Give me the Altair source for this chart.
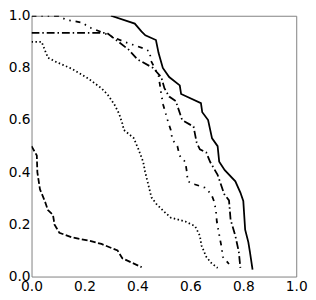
import altair as alt
import pandas as pd

# Curve data (x = recall-like, y = precision-like)
solid_x = [0.30, 0.39, 0.415, 0.43, 0.47, 0.48, 0.496, 0.52, 0.56, 0.565, 0.64, 0.645, 0.667, 0.682, 0.703, 0.709, 0.73, 0.77, 0.789, 0.80, 0.807, 0.819, 0.825, 0.835]
solid_y = [1.0, 0.97, 0.94, 0.925, 0.907, 0.857, 0.80, 0.765, 0.733, 0.70, 0.665, 0.63, 0.60, 0.53, 0.50, 0.44, 0.408, 0.365, 0.322, 0.29, 0.18, 0.132, 0.095, 0.027]

dashdot_x = [0.0, 0.285, 0.367, 0.40, 0.459, 0.49, 0.502, 0.52, 0.545, 0.569, 0.612, 0.624, 0.636, 0.66, 0.675, 0.703, 0.728, 0.746, 0.752, 0.77, 0.783, 0.789]
dashdot_y = [0.934, 0.934, 0.87, 0.833, 0.80, 0.765, 0.722, 0.69, 0.673, 0.60, 0.575, 0.513, 0.488, 0.476, 0.439, 0.39, 0.316, 0.292, 0.218, 0.156, 0.095, 0.033]

dashdotdot_x = [0.0, 0.10, 0.13, 0.19, 0.22, 0.27, 0.35, 0.42, 0.447, 0.45, 0.48, 0.49, 0.497, 0.514, 0.526, 0.532, 0.551, 0.559, 0.581, 0.587, 0.59, 0.618, 0.654, 0.679, 0.691, 0.697, 0.70, 0.712, 0.719, 0.722, 0.746]
dashdotdot_y = [1.0, 1.0, 0.985, 0.974, 0.955, 0.935, 0.90, 0.876, 0.863, 0.83, 0.77, 0.70, 0.66, 0.60, 0.562, 0.525, 0.50, 0.464, 0.439, 0.40, 0.365, 0.353, 0.341, 0.316, 0.285, 0.248, 0.211, 0.144, 0.107, 0.076, 0.048]

dotted_x = [0.0, 0.038, 0.062, 0.093, 0.154, 0.215, 0.264, 0.288, 0.313, 0.331, 0.343, 0.349, 0.386, 0.404, 0.422, 0.429, 0.441, 0.453, 0.471, 0.502, 0.526, 0.581, 0.618, 0.636, 0.642, 0.66, 0.679, 0.703]
dotted_y = [0.90, 0.90, 0.839, 0.823, 0.796, 0.759, 0.722, 0.697, 0.66, 0.624, 0.587, 0.562, 0.531, 0.488, 0.439, 0.402, 0.353, 0.304, 0.279, 0.248, 0.226, 0.211, 0.193, 0.156, 0.119, 0.076, 0.052, 0.033]

dashed_x = [0.0, 0.02, 0.022, 0.032, 0.05, 0.062, 0.081, 0.087, 0.105, 0.154, 0.215, 0.264, 0.325, 0.343, 0.416]
dashed_y = [0.50, 0.464, 0.40, 0.334, 0.29, 0.255, 0.236, 0.199, 0.168, 0.15, 0.138, 0.125, 0.10, 0.07, 0.036]

tick_values = [0.0, 0.2, 0.4, 0.6, 0.8, 1.0]

series = [
    ("solid", solid_x, solid_y, None),
    ("dashdot", dashdot_x, dashdot_y, [8, 3, 1.5, 3]),
    ("dashdotdot", dashdotdot_x, dashdotdot_y, [5, 5, 1.5, 5, 1.5, 5]),
    ("dotted", dotted_x, dotted_y, [1.5, 2.5]),
    ("dashed", dashed_x, dashed_y, [6, 2.5]),
]

xs = alt.Scale(domain=[0, 1], nice=False, zero=False)
ys = alt.Scale(domain=[0, 1], nice=False, zero=False)
xaxis = alt.Axis(values=tick_values, format=".1f", title=None, grid=False, ticks=False,
                 domain=False, labelFlush=False, labelOverlap=False, labelPadding=3)
yaxis = alt.Axis(values=tick_values, format=".1f", title=None, grid=False, ticks=False,
                 domain=False, labelOverlap=False, labelPadding=1.5)

layers = []
for name, sx, sy, dash in series:
    df = pd.DataFrame({"x": sx, "y": sy, "i": list(range(len(sx)))})
    kw = dict(color="black", strokeWidth=1.8, clip=True)
    if dash is not None:
        kw["strokeDash"] = dash
    layers.append(
        alt.Chart(df).mark_line(**kw).encode(
            x=alt.X("x:Q", scale=xs, axis=xaxis),
            y=alt.Y("y:Q", scale=ys, axis=yaxis),
            order="i:Q",
        )
    )

chart = alt.layer(*layers).properties(
    width=270, height=266,
    autosize=alt.AutoSizeParams(type="none"),
    padding={"left": 24, "top": 5, "right": 12, "bottom": 21},
).configure_view(
    stroke="#808080", strokeWidth=1
).configure_axis(
    labelFont="DejaVu Sans", labelFontSize=14, labelColor="black"
)

chart.save("out.html", embed_options={"renderer": "svg", "actions": False})
